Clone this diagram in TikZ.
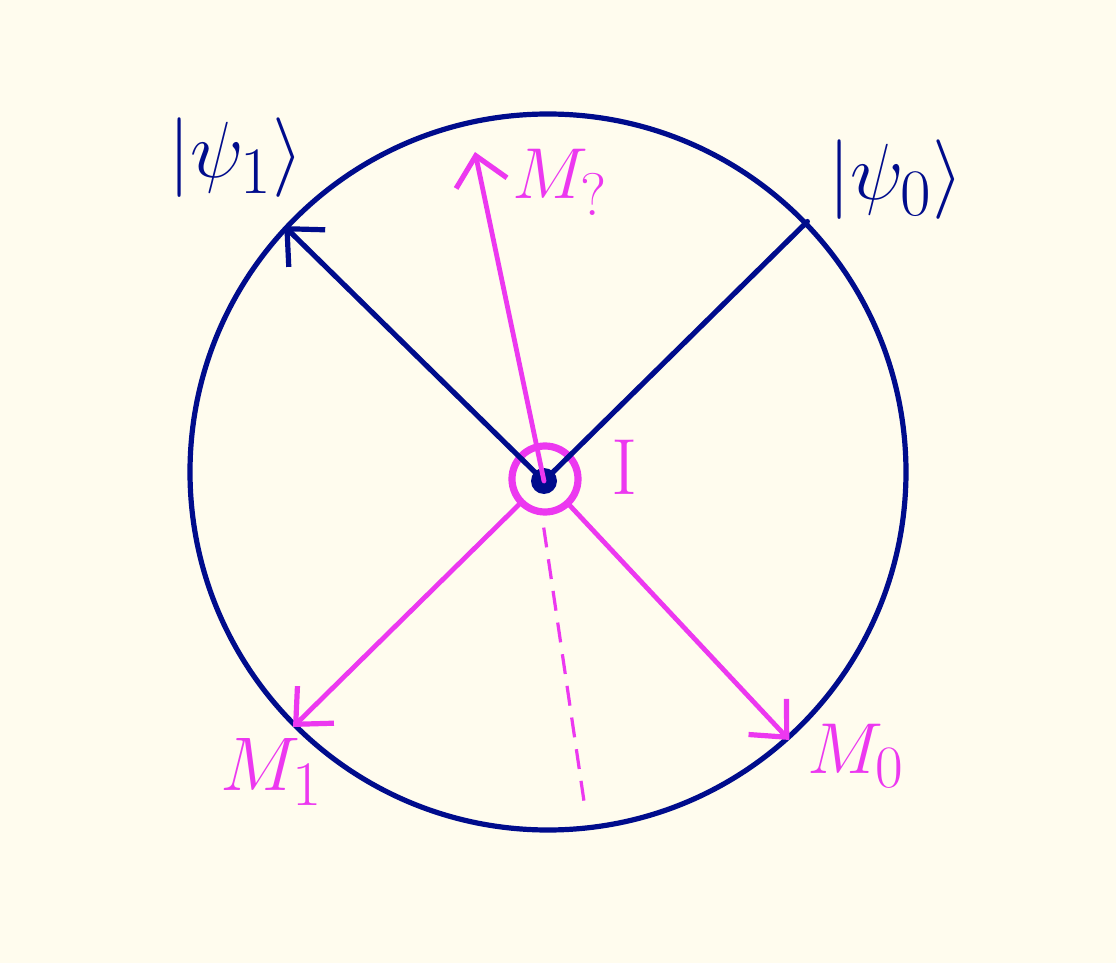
\documentclass[tikz,border=0pt]{standalone}
\usepackage{graphicx}
\usepackage{amsmath}
\usetikzlibrary{arrows.meta}
\definecolor{bgc}{RGB}{255,252,238}
\definecolor{navy}{RGB}{0,12,140}
\definecolor{pinkm}{RGB}{236,56,240}
\tikzset{
  bluestroke/.style={draw=navy, line width=2.6pt, line cap=round},
  pinkstroke/.style={draw=pinkm, line width=2.4pt, line cap=round},
  barb/.style={-{Straight Barb[length=14pt,width=26pt,line width=2.6pt]}},
  bluelabel/.style={text=navy, inner sep=0pt, font=\Huge},
  pinklabel/.style={text=pinkm, inner sep=0pt, font=\Huge},
}
\begin{document}
\begin{tikzpicture}[x=0.5pt,y=-0.5pt]
\fill[bgc] (0,0) rectangle (1116,963);
\useasboundingbox (0,0) rectangle (1116,963);
% main circle
\node[circle, draw=navy, line width=2.6pt, minimum size=358pt, inner sep=0pt] (circ) at (548,472) {};
% centre
\node[circle, draw=pinkm, line width=3.6pt, minimum size=33pt, inner sep=0pt] (ring) at (545,479) {};
\node[circle, fill=navy, minimum size=13pt, inner sep=0pt] (o) at (544,481) {};
\coordinate (mq) at (475,152);
\coordinate (dend) at (585,808);
% blue vectors
\draw[bluestroke, barb] (o.center) -- (circ.137.6);
\draw[bluestroke] (o.center) -- (circ.44.7);
% pink vectors
\draw[pinkstroke, barb] (o.center) -- (mq);
\draw[pinkstroke, barb] (ring) -- (circ.225.1);
\draw[pinkstroke, barb] (ring) -- (circ.312.3);
\draw[draw=pinkm, line width=1.6pt, dash pattern=on 10pt off 6pt] ([yshift=-6pt]ring.268) -- (dend);
% labels
\node[bluelabel] (psi1) at (236,158) {\scalebox{1.6}{$|\psi_1\rangle$}};
\node[bluelabel] (psi0) at (896,180) {\scalebox{1.6}{$|\psi_0\rangle$}};
\node[pinklabel] (lmq) at (560,182) {\scalebox{1.45}{$M_?$}};
\node[pinklabel] (lI) at (625,467) {\scalebox{1.6}{$\mathrm{I}$}};
\node[pinklabel] (lm1) at (272,772) {\scalebox{1.53}{$M_1$}};
\node[pinklabel] (lm0) at (856,756) {\scalebox{1.45}{$M_0$}};
\end{tikzpicture}
\end{document}
